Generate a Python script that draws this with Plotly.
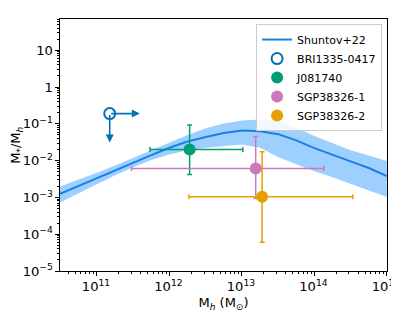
import numpy as np
import plotly.graph_objects as go

# Shuntov+22 relation
logMh = [10.49, 10.75, 11.0, 11.25, 11.5, 11.75, 12.0, 12.25, 12.5, 12.75, 13.0,
         13.25, 13.5, 13.75, 14.0, 14.25, 14.5, 14.75, 15.0]
log_ratio = [-2.90, -2.68, -2.47, -2.26, -2.05, -1.85, -1.65, -1.48, -1.36, -1.25, -1.18,
             -1.20, -1.28, -1.45, -1.66, -1.83, -2.02, -2.20, -2.42]
log_ratio_hi = [-2.70, -2.52, -2.33, -2.13, -1.92, -1.70, -1.50, -1.30, -1.12, -0.99, -0.91,
                -0.88, -0.92, -1.10, -1.33, -1.52, -1.72, -1.86, -2.01]
log_ratio_lo = [-3.14, -2.88, -2.63, -2.40, -2.18, -1.98, -1.83, -1.72, -1.65, -1.60, -1.56,
                -1.65, -1.90, -2.10, -2.29, -2.45, -2.63, -2.80, -2.99]

# BRI1335-0417 limits
bri_x, bri_y = 1.5e11, 0.19
bri_x_arrow_end = 3.9e11
bri_y_arrow_end = 0.031

# Sources with error bars
src_names = ["J081740", "SGP38326-1", "SGP38326-2"]
src_mh = [1.9e12, 1.55e13, 1.9e13]
src_mh_lo = [5.4e11, 3.0e11, 1.86e12]
src_mh_hi = [1.03e13, 1.35e14, 3.4e14]
src_r = [0.020, 0.0061, 0.00105]
src_r_lo = [0.0042, 9.3e-4, 6.0e-5]
src_r_hi = [0.093, 0.045, 0.0174]
src_colors = ["#029E73", "#CC78BC", "#E69F00"]

mh = [10 ** v for v in logMh]
r = [10 ** v for v in log_ratio]
r_hi = [10 ** v for v in log_ratio_hi]
r_lo = [10 ** v for v in log_ratio_lo]

fig = go.Figure()

fig.add_trace(go.Scatter(x=mh, y=r_hi, mode="lines", line=dict(width=0),
                         showlegend=False, hoverinfo="skip"))
fig.add_trace(go.Scatter(x=mh, y=r_lo, mode="lines", line=dict(width=0),
                         fill="tonexty", fillcolor="rgba(40,150,255,0.45)",
                         showlegend=False, hoverinfo="skip"))
fig.add_trace(go.Scatter(x=mh, y=r, mode="lines", name="Shuntov+22",
                         line=dict(color="#1a80e6", width=2)))

# BRI arrows
for (ex, ey) in [(bri_x_arrow_end, bri_y), (bri_x, bri_y_arrow_end)]:
    fig.add_annotation(x=np.log10(ex), y=np.log10(ey), ax=np.log10(bri_x), ay=np.log10(bri_y),
                       xref="x", yref="y", axref="x", ayref="y", text="",
                       showarrow=True, arrowhead=2, arrowsize=1, arrowwidth=1.6,
                       arrowcolor="#0173B2")

fig.add_trace(go.Scatter(x=[bri_x], y=[bri_y], mode="markers", name="BRI1335-0417",
                         marker=dict(symbol="circle", size=11, color="white",
                                     line=dict(color="#0173B2", width=2))))

for i, name in enumerate(src_names):
    fig.add_trace(go.Scatter(
        x=[src_mh[i]], y=[src_r[i]], mode="markers", name=name,
        marker=dict(size=12, color=src_colors[i]),
        error_x=dict(type="data", symmetric=False,
                     array=[src_mh_hi[i] - src_mh[i]], arrayminus=[src_mh[i] - src_mh_lo[i]],
                     color=src_colors[i], thickness=1.5, width=2.5),
        error_y=dict(type="data", symmetric=False,
                     array=[src_r_hi[i] - src_r[i]], arrayminus=[src_r[i] - src_r_lo[i]],
                     color=src_colors[i], thickness=1.5, width=2.5),
    ))

axis_common = dict(type="log", showgrid=False, zeroline=False, showline=True,
                   linecolor="black", linewidth=1, mirror=True, ticks="outside",
                   ticklen=4, tickcolor="black", exponentformat="power", automargin=False,
                   ticklabeloverflow="allow",
                   tickfont=dict(family="DejaVu Sans", size=10.5, color="black"),
                   minor=dict(ticks="outside", ticklen=2, tickcolor="black", showgrid=False))

fig.update_xaxes(**axis_common, range=[10.49, 15.002], dtick=1, ticklabelshift=-1,
                 title=dict(text="M<sub><i>h</i></sub> (M<sub>⊙</sub>)",
                            font=dict(family="DejaVu Sans", size=13, color="black"), standoff=4))
fig.update_yaxes(**axis_common, range=[-5, 1.85], dtick=1)

fig.add_annotation(text="M<sub>*</sub>/M<sub><i>h</i></sub>", xref="paper", yref="paper",
                   x=-0.135, y=0.5, xanchor="center", yanchor="middle", textangle=-90,
                   showarrow=False, font=dict(family="DejaVu Sans", size=13, color="black"))

# page body has an 8px margin, so the figure is shifted by 8px; size accordingly
fig.update_layout(
    width=391, height=311,
    margin=dict(l=52, r=12, t=11, b=48),
    paper_bgcolor="white", plot_bgcolor="white",
    font=dict(family="DejaVu Sans", color="black"),
    legend=dict(x=0.985, y=0.98, xanchor="right", yanchor="top", traceorder="normal",
                bgcolor="rgba(255,255,255,0.85)", bordercolor="#cccccc", borderwidth=1,
                font=dict(family="DejaVu Sans", size=11), tracegroupgap=0,
                itemwidth=30),
)

fig.write_html("out.html")
